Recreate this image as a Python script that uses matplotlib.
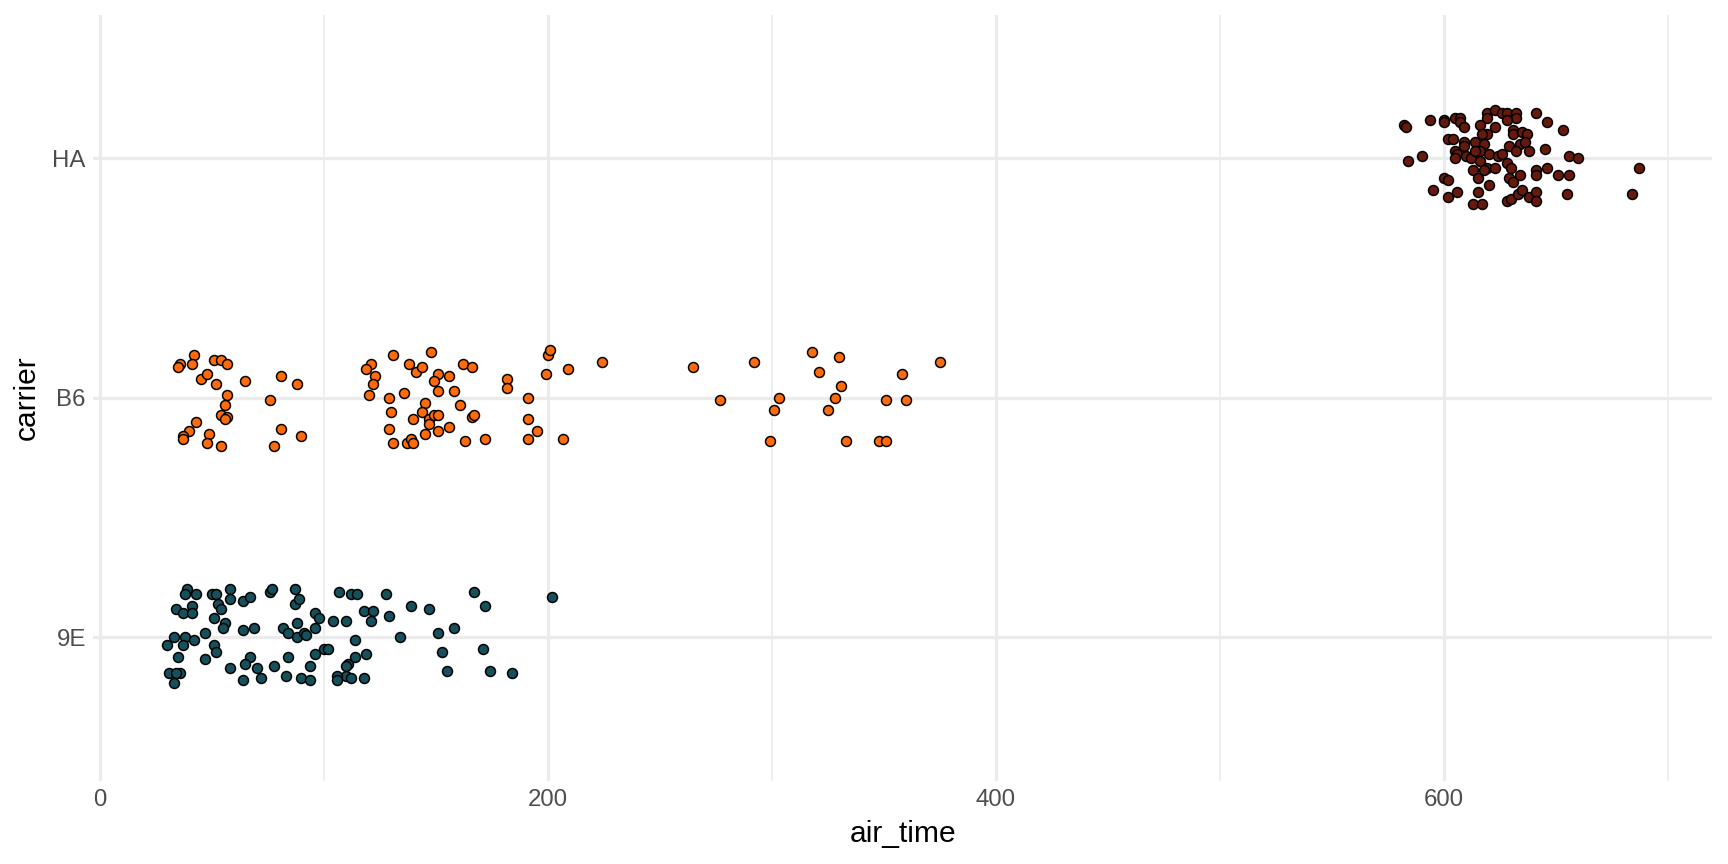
import numpy as np
import matplotlib.pyplot as plt

plt.rcParams['font.family'] = ['Liberation Sans', 'DejaVu Sans']

####################################################################################################

carriers = ['9E', 'B6', 'HA']
fills = {'9E': '#16505B', 'B6': '#FF6A0A', 'HA': '#661A0E'}

# air_time values and vertical jitter (category units)

air_time_9e = [39, 38, 43, 50, 52, 58, 58, 64, 67, 76, 77, 87, 87, 89, 107, 112, 115, 128, 167, 202, 172,
               34, 37, 41, 41, 53, 54, 51, 56, 55, 64, 69, 82, 84, 88, 88, 91, 92, 96, 98, 96, 104, 110,
               118, 122, 121, 129, 139, 147, 134, 151, 158, 114,
               33, 38, 37, 42, 30, 47, 51, 52, 35, 47, 58, 67, 65, 70, 64, 72, 78, 83, 84, 90, 94, 94, 96,
               100, 102, 111, 110, 110, 106, 106, 112, 114, 119, 118, 153, 155, 171, 174, 184, 31, 36, 34, 33]
jitter_9e = [.20, .18, .18, .18, .18, .20, .16, .15, .17, .19, .20, .20, .14, .16, .19, .18, .18, .18, .19, .17, .13,
             .12, .10, .13, .10, .14, .12, .08, .06, .04, .03, .04, .04, .02, .06, .00, .02, .01, .10, .08, .04,
             .07, .07, .11, .11, .07, .09, .13, .12, .00, .02, .04, -.01,
             .00, .00, -.03, -.01, -.03, .02, -.03, -.06, -.08, -.09, -.13, -.08, -.11, -.13, -.18, -.17, -.12,
             -.16, -.08, -.17, -.18, -.12, -.07, -.05, -.05, -.11, -.12, -.16, -.16, -.18, -.17, -.08, -.07,
             -.17, -.06, -.14, -.05, -.14, -.15, -.15, -.15, -.15, -.19]

air_time_b6 = [36, 35, 42, 41, 51, 54, 57, 45, 48, 52, 65, 81, 88, 57, 56, 54, 57, 56, 76, 43, 40, 37, 37, 49,
               48, 54, 81, 78, 90,
               121, 119, 123, 122, 131, 148, 138, 141, 144, 151, 149, 156, 162, 166, 120, 129, 136, 151, 158,
               145, 161, 130, 140, 144, 147, 149, 151, 147, 156, 151, 145, 129, 131, 137, 139, 140, 166, 167,
               163, 172, 182, 182, 191, 191, 191, 195, 199, 200, 201, 209, 224, 207,
               265, 277, 292, 303, 301, 299, 318, 330, 321, 331, 328, 325, 333, 348, 351, 351, 358, 360, 375]
jitter_b6 = [.14, .13, .18, .14, .16, .16, .14, .08, .10, .06, .07, .09, .06, .01, -.03, -.07, -.08, -.09, -.01,
             -.10, -.14, -.16, -.17, -.15, -.19, -.20, -.13, -.20, -.16,
             .14, .12, .09, .06, .18, .19, .14, .11, .13, .10, .07, .09, .14, .13, .01, .00, .02, .03, .03,
             -.02, -.03, -.06, -.09, -.06, -.09, -.07, -.07, -.11, -.12, -.14, -.15, -.13, -.19, -.19, -.17,
             -.19, -.08, -.07, -.18, -.17, .08, .04, .00, -.09, -.17, -.14, .10, .18, .20, .12, .15, -.17,
             .13, -.01, .15, .00, -.05, -.18, .19, .17, .11, .05, .00, -.05, -.18, -.18, -.18, -.01, .10, -.01, .15]

air_time_ha = [582, 583, 594, 600, 600, 605, 607, 607, 609, 619, 623, 626, 628, 632, 632, 619, 628, 641, 646, 653,
               616, 623, 631, 631, 635, 637, 619, 617, 602, 604, 609, 609, 614, 618, 616, 620, 624, 626, 629, 634,
               636, 632, 638, 645, 656, 660, 605, 606, 605, 610, 612, 614, 616, 584, 590, 613, 615, 619, 623, 618,
               628, 630, 629, 631, 634, 641, 641, 646, 651, 656, 600, 602, 595, 606, 602, 615, 620, 613, 617, 628,
               630, 633, 635, 638, 641, 641, 655, 684, 687]
jitter_ha = [.14, .13, .16, .16, .15, .17, .17, .15, .13, .19, .20, .19, .19, .19, .17, .17, .16, .19, .15, .12,
             .14, .13, .12, .10, .11, .10, .10, .10, .08, .08, .07, .05, .07, .06, .03, .02, .01, .02, .05, .06,
             .07, .03, .03, .04, .01, .00, .03, .02, .00, .01, .00, .03, -.01, -.01, .01, -.05, -.08, -.04, -.04,
             -.05, -.02, -.04, -.08, -.10, -.07, -.05, -.07, -.04, -.07, -.07, -.08, -.09, -.13, -.14, -.16, -.14,
             -.11, -.19, -.19, -.18, -.17, -.15, -.13, -.16, -.14, -.18, -.15, -.15, -.04]

series = {'9E': (air_time_9e, jitter_9e), 'B6': (air_time_b6, jitter_b6), 'HA': (air_time_ha, jitter_ha)}

####################################################################################################

figure = plt.figure(figsize=(8, 4), dpi=216)
axe = figure.add_axes([0.054, 0.096, 0.937, 0.887])

for i, carrier in enumerate(carriers):
    x, jitter = series[carrier]
    y = i + 1 + np.array(jitter)
    axe.scatter(x, y, s=11, c=fills[carrier], edgecolors='black', linewidths=0.5, zorder=3)

all_x = air_time_9e + air_time_b6 + air_time_ha
span = max(all_x) - min(all_x)
axe.set_xlim(min(all_x) - 0.05 * span, max(all_x) + 0.05 * span)
axe.set_ylim(0.4, 3.6)

axe.set_xticks([0, 200, 400, 600])
axe.set_xticks([100, 300, 500, 700], minor=True)
axe.set_yticks([1, 2, 3])
axe.set_yticklabels(carriers)

axe.grid(which='major', color='#EBEBEB', linewidth=1.07, zorder=0)
axe.grid(which='minor', axis='x', color='#EBEBEB', linewidth=0.53, zorder=0)
axe.set_axisbelow(True)
for spine in axe.spines.values():
    spine.set_visible(False)
axe.tick_params(which='both', length=0, labelsize=8, labelcolor='#4D4D4D', pad=2.5)

axe.set_xlabel('air_time', fontsize=10, labelpad=3)
axe.set_ylabel('carrier', fontsize=10, labelpad=4)

figure.savefig('out.png', dpi=216)
